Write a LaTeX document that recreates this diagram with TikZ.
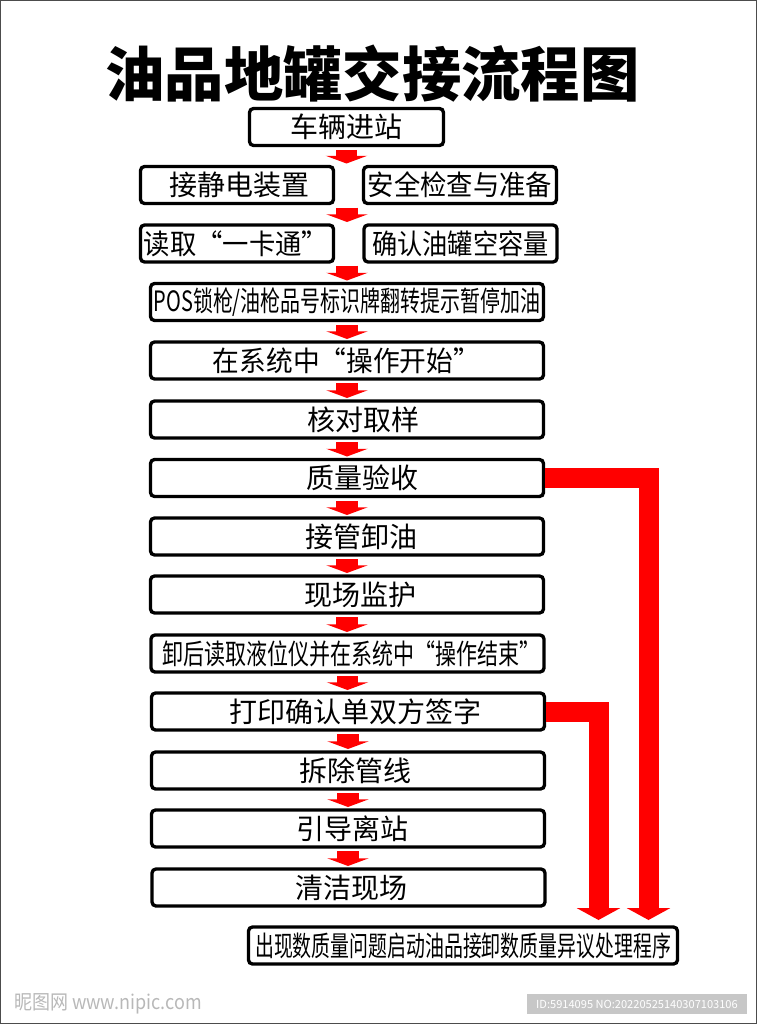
\documentclass[tikz,border=0pt]{standalone}
\usepackage{fontspec}
\usepackage{graphicx}
\setmainfont{Noto Sans CJK SC}
\usetikzlibrary{shapes,arrows.meta,positioning}

\tikzset{
  stepbox/.style={draw,line width=2.5pt,rounded corners=3pt,fill=white,inner sep=0pt,
    minimum height=37*0.75pt,font=\fontsize{21pt}{24pt}\selectfont},
  pairbox/.style={stepbox,minimum width=193*0.75pt},
  widebox/.style={stepbox,minimum width=393*0.75pt},
  flowarrow/.style={red,line width=16pt,shorten <=2pt,shorten >=1pt,
    -{Triangle[length=5.8pt,width=31pt]}},
  bigarrow/.style={red,line width=15pt,-{Triangle[length=9pt,width=32.5pt]}},
}
\newcommand{\squeeze}[2]{\scalebox{#1}[1]{#2}}
% moves a label off the middle of its box, amount in px of the reference
\newcommand{\offmid}[2]{\hspace*{\dimexpr #1pt*3/2\relax}#2}

\begin{document}
\begin{tikzpicture}[x=0.75pt,y=0.75pt,yscale=-1,xscale=1]
\useasboundingbox (0,0) rectangle (757,1024);

%Shape: Rectangle
\draw [draw=black!70,line width=0.75pt] (0.5,0.5) rectangle (756.5,1023.5);

% Text Node
\node (title) at (372.5,73.5) [inner sep=0pt,font=\fontsize{44.5pt}{50pt}\selectfont\bfseries] {油品地罐交接流程图};

% Text Node
\node (carIn) at (346.5,127) [stepbox,minimum width=194*0.75pt] {车辆进站};
\node (staticGround) at (237,185) [pairbox] {\offmid{2}{接静电装置}};
\node (safetyCheck) at (460,185) [pairbox] {\squeeze{0.94}{安全检查与准备}};
\node (readCard) at (237,243.5) [pairbox] {\offmid{-1}{\squeeze{0.94}{读取“一卡通”}}};
\node (tankVolume) at (460.5,243.5) [pairbox] {\squeeze{0.9}{确认油罐空容量}};
\node (posLock) at (347,302) [widebox] {\squeeze{0.713}{POS锁枪/油枪品号标识牌翻转提示暂停加油}};
\node (opStart) at (347,360.5) [widebox] {\offmid{-0.5}{\squeeze{0.955}{在系统中“操作开始”}}};
\node (sampleCheck) at (347,419.5) [widebox] {\offmid{16}{核对取样}};
\node (qualityCheck) at (347,478) [widebox] {\offmid{15}{质量验收}};
\node (takeOver) at (347,536.5) [widebox] {\offmid{14}{接管卸油}};
\node (siteWatch) at (347,594.5) [widebox] {\offmid{13}{现场监护}};
\node (opEnd) at (347.5,653.5) [widebox] {\offmid{4}{\squeeze{0.75}{卸后读取液位仪并在系统中“操作结束”}}};
\node (printSign) at (348,711.5) [widebox] {\offmid{7}{打印确认单双方签字}};
\node (removePipe) at (348,770.5) [widebox] {\offmid{7}{拆除管线}};
\node (guideOut) at (348,828.5) [widebox] {\offmid{4}{引导离站}};
\node (cleanSite) at (348.5,887.5) [widebox] {\offmid{3}{清洁现场}};
\node (disputeProc) at (463,945.5) [stepbox,minimum width=429*0.75pt] {\squeeze{0.675}{出现数质量问题启动油品接卸数质量异议处理程序}};

% Named ends
\coordinate (gapSafety) at (347,205);
\coordinate (gapCard) at (347,263);
\coordinate (tipPrint) at (598.5,920);
\coordinate (tipQuality) at (648.5,920);

%Straight Lines
\draw [flowarrow] (carIn.south) -- (carIn.south |- safetyCheck.north);
\draw [flowarrow] (gapSafety) -- (gapSafety |- tankVolume.north);
\draw [flowarrow] (gapCard) -- (gapCard |- posLock.north);
\draw [flowarrow] (posLock.south) -- (posLock.south |- opStart.north);
\draw [flowarrow] (opStart.south) -- (opStart.south |- sampleCheck.north);
\draw [flowarrow] (sampleCheck.south) -- (sampleCheck.south |- qualityCheck.north);
\draw [flowarrow] (qualityCheck.south) -- (qualityCheck.south |- takeOver.north);
\draw [flowarrow] (takeOver.south) -- (takeOver.south |- siteWatch.north);
\draw [flowarrow] (siteWatch.south) -- (siteWatch.south |- opEnd.north);
\draw [flowarrow] (opEnd.south) -- (opEnd.south |- printSign.north);
\draw [flowarrow] (printSign.south) -- (printSign.south |- removePipe.north);
\draw [flowarrow] (removePipe.south) -- (removePipe.south |- guideOut.north);
\draw [flowarrow] (guideOut.south) -- (guideOut.south |- cleanSite.north);

\draw [bigarrow] (qualityCheck.east) -| (tipQuality);
\draw [bigarrow] (printSign.east) -| (tipPrint);

% Text Node
\node (siteMark) at (108,1004) [inner sep=0pt,text=black!28,font=\fontsize{15pt}{18pt}\selectfont] {\squeeze{0.9}{昵图网 www.nipic.com}};
\node (idMark) at (637,1004) [fill=black!22,text=white,inner sep=0pt,minimum width=220*0.75pt,minimum height=20*0.75pt,font=\fontsize{8.3pt}{11pt}\selectfont] {ID:5914095 NO:20220525140307103106};

\end{tikzpicture}
\end{document}
